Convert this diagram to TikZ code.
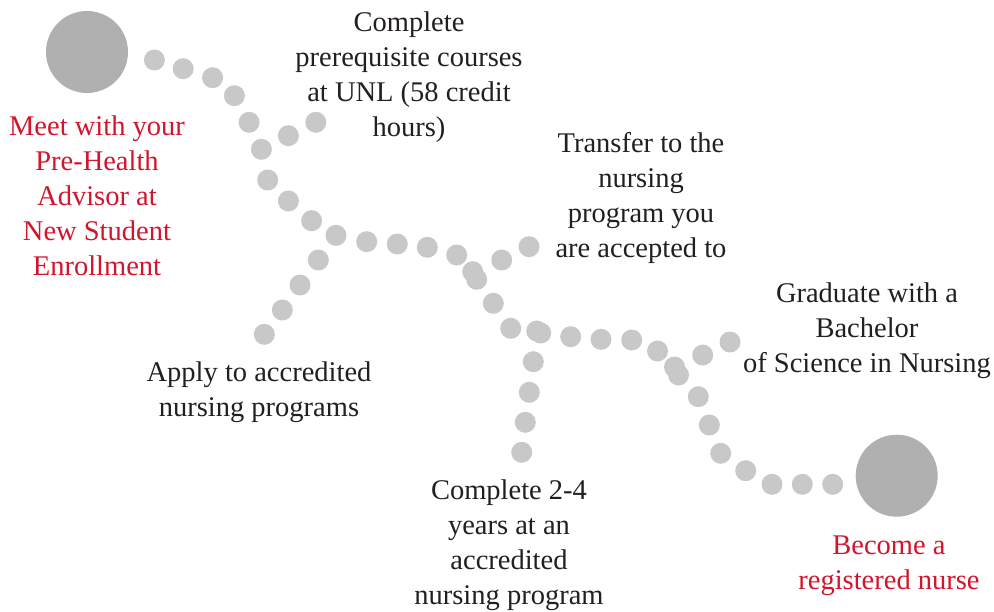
\documentclass[tikz,border=0pt]{standalone}
\usepackage{fontspec}
\setmainfont{Liberation Serif}
\definecolor{dotc}{HTML}{C8C8C8}
\definecolor{bigc}{HTML}{B0B0B0}
\definecolor{redc}{HTML}{D2142D}
\definecolor{txtc}{HTML}{231F20}
\begin{document}
\begin{tikzpicture}[x=1pt,y=-1pt,
  dot/.style={circle,fill=dotc,inner sep=0pt,minimum size=21pt},
  big/.style={circle,fill=bigc,inner sep=0pt,minimum size=82pt},
  lbl/.style={align=center,font=\fontsize{28.5}{35}\selectfont,text=txtc,inner sep=0pt},
  rlbl/.style={lbl,text=redc}]
\useasboundingbox (0,0) rectangle (994,611);
% big circles
\node[big] (start) at (87,52) {};
\node[big] (finish) at (896.7,475.7) {};
% main dotted path
\foreach \n/\x/\y in {a1/154.4/60, a2/183.2/68.7, a3/212.6/77.7, a4/234.4/95.7,
  a5/249.1/122.3, a6/261.4/149.3, a7/267.7/180, a8/288.4/201, a9/311.6/220.7,
  a10/336/235.3, a11/366.7/241.7, a12/397.3/244, a13/427.3/247.3, a14/456.7/255,
  a15/472.7/271.7, a16/476.7/279.3, a17/493.3/303.3, a18/510.7/328.3,
  a19/536.7/331, a20/540.7/333, a21/570.7/336.7, a22/601/339.3, a23/631.7/340,
  a24/657.5/351, a25/674.5/367, a26/678.5/375, a27/698.3/396.7, a28/709.3/425,
  a29/720.7/453.3, a30/745.7/470.7, a31/772/484.3, a32/802.3/484.3, a33/832.7/484.3}
  \node[dot] (\n) at (\x,\y) {};
% branches
\foreach \n/\x/\y in {p1/288.4/135.7, p2/315.8/122.3,
  t1/501.7/260, t2/529/246.7,
  ap1/318.3/260, ap2/300/285, ap3/282.3/310, ap4/264.3/334.3,
  y1/533.3/361.7, y2/529.3/392.3, y3/525.3/422.3, y4/521.7/452.3,
  g1/702.7/355, g2/730/342}
  \node[dot] (\n) at (\x,\y) {};
% labels
\node[rlbl] (meet) at (97,196) {Meet with your\\Pre-Health\\Advisor at\\New Student\\Enrollment};
\node[lbl] (prereq) at (409,77) {Complete\\prerequisite courses\\at UNL (58 credit\\hours)};
\node[lbl] (transfer) at (641,198) {Transfer to the\\nursing\\program you\\are accepted to};
\node[lbl] (apply) at (259,392) {Apply to accredited\\nursing programs};
\node[lbl] (grad) at (867,331) {Graduate with a\\Bachelor\\of Science in Nursing};
\node[lbl] (years) at (509,545) {Complete 2-4\\years at an\\accredited\\nursing program};
\node[rlbl] (become) at (889,566) {Become a\\registered nurse};
\end{tikzpicture}
\end{document}
